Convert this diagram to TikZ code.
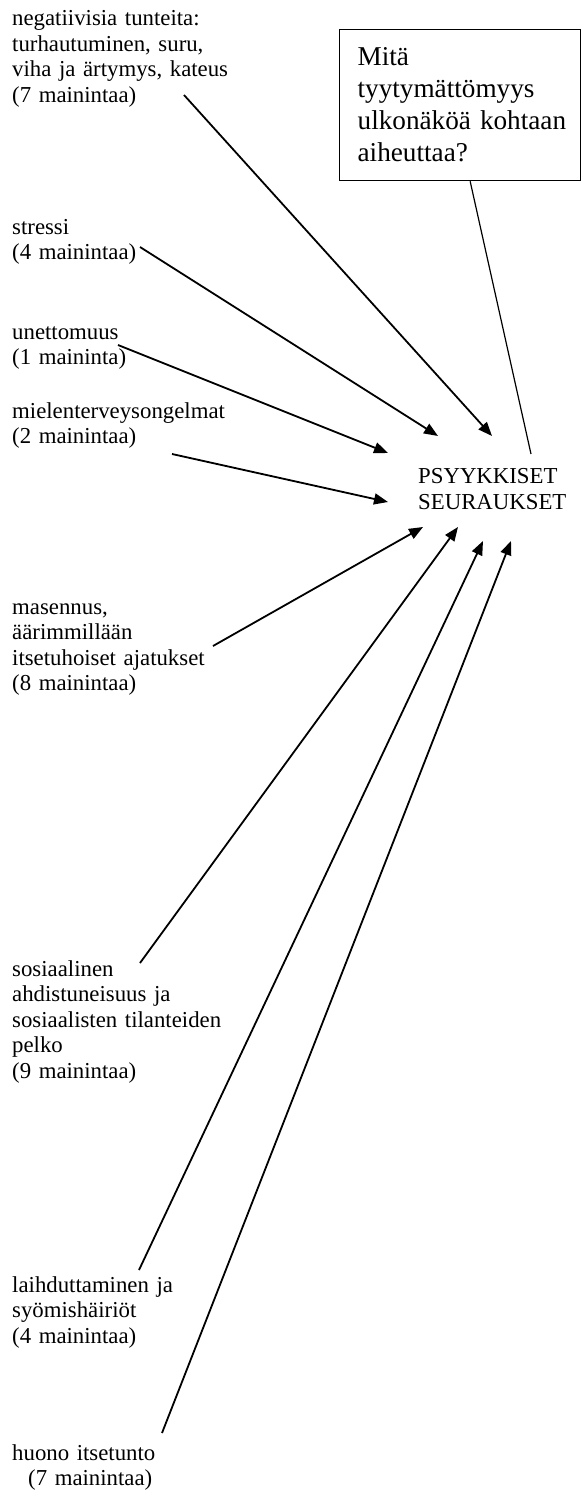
\documentclass[tikz,border=0pt]{standalone}
\usepackage{fontspec}
\setmainfont{Liberation Serif}
\usetikzlibrary{arrows.meta}
\tikzset{
  aihe/.style={anchor=base west, inner sep=0pt, text width=300pt, align=left,
    font=\fontsize{22.8}{25.5}\selectfont},
  kysymys/.style={draw, line width=1.3pt, anchor=north west, minimum width=241pt,
    minimum height=151pt, text width=205pt, inner xsep=18pt, align=left,
    font=\fontsize{27.2}{32}\selectfont},
  nuoli/.style={-{Triangle[length=14pt,width=11pt]}, line width=1.8pt},
}
\begin{document}
\begin{tikzpicture}[x=1pt,y=-1pt]
\useasboundingbox (0,0) rectangle (582,1490);
% kysymys ja seuraukset
\node[kysymys] (kys) at (339,29) {Mitä\\tyytymättömyys\\\mbox{ulkonäköä kohtaan}\\aiheuttaa?};
\node[aihe, font=\fontsize{22.8}{26}\selectfont] (psyk) at (418,483) {PSYYKKISET\\SEURAUKSET};
% syyt
\node[aihe] (neg) at (12,26) {negatiivisia tunteita:\\turhautuminen, suru,\\viha ja ärtymys, kateus\\(7 mainintaa)};
\node[aihe] (stressi) at (12,234) {stressi\\(4 mainintaa)};
\node[aihe] (unetto) at (12,339) {unettomuus\\(1 maininta)};
\node[aihe] (mielen) at (12,418) {mielenterveysongelmat\\(2 mainintaa)};
\node[aihe] (masennus) at (12,614) {masennus,\\äärimmillään\\itsetuhoiset ajatukset\\(8 mainintaa)};
\node[aihe] (sosiaal) at (12,976) {sosiaalinen\\ahdistuneisuus ja\\sosiaalisten tilanteiden\\pelko\\(9 mainintaa)};
\node[aihe] (laihd) at (12,1292) {laihduttaminen ja\\syömishäiriöt\\(4 mainintaa)};
\node[aihe] (huono) at (12,1460) {huono itsetunto\\\hspace*{16pt}(7 mainintaa)};
% nuolten päät
\coordinate (neg-a) at (184,95);      \coordinate (neg-b) at (492,436);
\coordinate (stressi-a) at (140,247); \coordinate (stressi-b) at (438,436);
\coordinate (unetto-a) at (118,345);  \coordinate (unetto-b) at (388,453);
\coordinate (mielen-a) at (172,454);  \coordinate (mielen-b) at (388,502);
\coordinate (masennus-a) at (213,646); \coordinate (masennus-b) at (423,527);
\coordinate (sosiaal-a) at (140,963); \coordinate (sosiaal-b) at (458,527);
\coordinate (laihd-a) at (139,1270);  \coordinate (laihd-b) at (483,541);
\coordinate (huono-a) at (162,1433);  \coordinate (huono-b) at (511,541);
\coordinate (kys-b) at (531,454);
\draw[line width=1.2pt] ([xshift=10pt]kys.south) -- (kys-b);
\draw[nuoli] (neg-a) -- (neg-b);
\draw[nuoli] (stressi-a) -- (stressi-b);
\draw[nuoli] (unetto-a) -- (unetto-b);
\draw[nuoli] (mielen-a) -- (mielen-b);
\draw[nuoli] (masennus-a) -- (masennus-b);
\draw[nuoli] (sosiaal-a) -- (sosiaal-b);
\draw[nuoli] (laihd-a) -- (laihd-b);
\draw[nuoli] (huono-a) -- (huono-b);
\end{tikzpicture}
\end{document}
